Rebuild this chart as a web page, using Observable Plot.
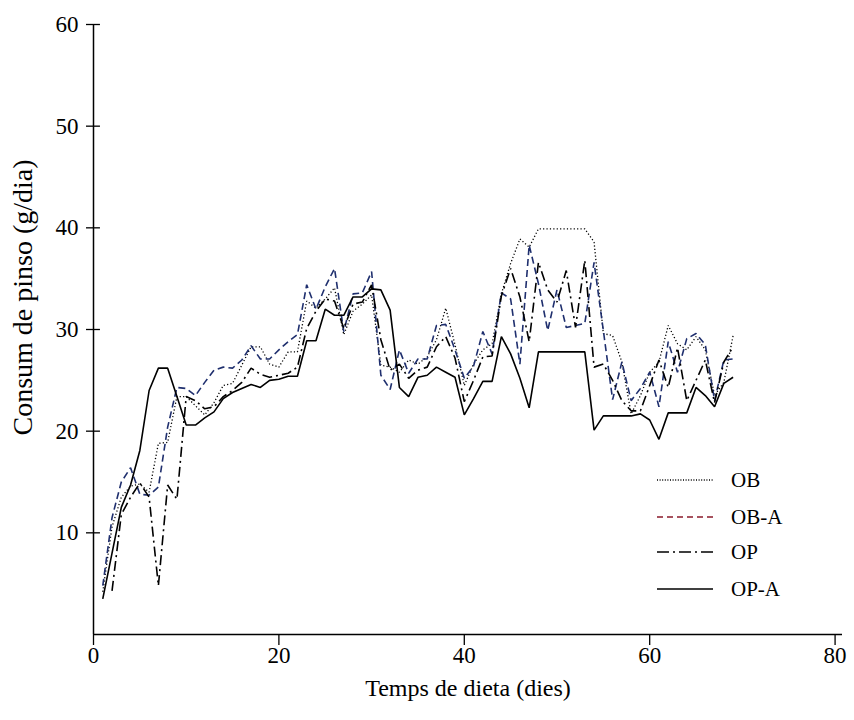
<!DOCTYPE html>
<html><head><meta charset="utf-8">
<script src="https://cdn.jsdelivr.net/npm/d3@7"></script>
<script src="https://cdn.jsdelivr.net/npm/@observablehq/plot@0.6"></script>
<style>
body{margin:0;background:#fff;}
#wrap{position:relative;width:854px;height:720px;font-family:"Liberation Serif","Times New Roman",serif;}
#legend{position:absolute;left:0;top:0;pointer-events:none;}
</style></head><body><div id="wrap"></div>
<script>
// Days of diet
const days = d3.range(1, 70);
const xTicks = [0, 20, 40, 60, 80];
const yTicks = [10, 20, 30, 40, 50, 60];
const seriesNames = ["OB", "OB-A", "OP", "OP-A"];

// OB (dotted)
const OB = [4.2,10.6,13.5,14.6,14.8,14.0,18.8,18.9,23.4,23.4,
 22.5,21.6,22.8,24.5,24.7,26.5,28.3,28.3,26.6,26.3,
 27.8,27.8,32.8,32.1,33.0,34.1,29.5,31.8,32.5,33.4,
 26.5,26.3,25.8,27.0,26.6,27.3,29.0,32.1,28.5,24.5,
 26.6,28.0,28.6,33.5,36.5,38.9,38.1,39.9,39.9,39.9,
 39.9,39.9,39.9,38.6,29.6,29.4,26.8,21.7,23.5,25.8,
 26.8,30.4,28.6,28.0,29.3,28.0,23.5,24.8,29.4];
// OB-A (dashed, navy)
const OBA = [4.8,11.5,15.0,16.4,13.8,13.7,14.5,20.4,24.3,24.2,
 23.5,24.8,26.0,26.3,26.2,27.0,28.4,27.1,27.1,28.0,
 28.8,29.5,34.4,32.0,34.2,36.0,29.8,33.5,33.6,35.7,
 25.5,24.1,28.0,25.7,27.1,27.1,30.4,30.5,28.0,25.2,
 26.4,29.8,27.6,33.6,33.0,26.6,38.3,34.5,29.9,33.9,
 30.2,30.4,30.6,36.6,29.9,23.1,26.8,23.0,24.2,25.8,
 22.4,28.8,25.8,29.1,29.6,28.5,23.0,27.0,27.1];
// OP (dash-dot)
const OP = [null,4.3,11.8,13.5,14.9,13.5,4.8,14.7,13.3,23.4,
 23.0,22.2,22.4,23.4,24.0,24.8,26.2,25.6,25.3,25.5,
 25.7,26.3,30.1,31.8,33.0,32.8,30.1,32.5,32.7,34.4,
 29.0,26.0,26.6,25.2,26.0,26.3,28.3,29.3,27.2,22.9,
 25.0,27.3,27.4,33.3,36.0,33.2,28.8,36.6,33.9,32.7,
 35.8,30.2,36.8,26.3,26.6,25.0,23.0,22.0,22.0,24.5,
 27.0,24.3,28.2,23.0,25.0,27.0,22.8,26.8,28.3];
// OP-A (solid)
const OPA = [3.5,8.0,12.5,14.7,18.1,24.0,26.2,26.2,23.4,20.6,
 20.6,21.3,21.9,23.2,23.8,24.2,24.6,24.3,25.0,25.1,
 25.4,25.4,28.9,28.9,32.0,31.4,31.4,33.2,33.2,34.0,
 33.9,31.9,24.3,23.4,25.3,25.5,26.3,25.8,25.3,21.6,
 23.2,24.9,24.9,29.3,27.6,25.2,22.3,27.8,27.8,27.8,
 27.8,27.8,27.8,20.1,21.5,21.5,21.5,21.5,21.7,21.1,
 19.2,21.8,21.8,21.8,24.3,23.5,22.4,24.7,25.3];

const values = [OB, OBA, OP, OPA];
const styles = {
  "OB":   {stroke: "#000", dash: "1.2,2.2", width: 1.3},
  "OB-A": {stroke: "#1f2f6e", dash: "7,4", width: 1.6},
  "OP":   {stroke: "#000", dash: "10,4,2,4", width: 1.6},
  "OP-A": {stroke: "#000", dash: null, width: 1.6}
};
const legendStroke = {"OB": "#000", "OB-A": "#8b1a2b", "OP": "#000", "OP-A": "#000"};

const lineMarks = seriesNames.map((name, i) => {
  const data = days.map((d, j) => ({day: d, value: values[i][j]}));
  const s = styles[name];
  return Plot.line(data, {x: "day", y: "value", stroke: s.stroke, strokeWidth: s.width,
    strokeDasharray: s.dash, strokeLinejoin: "miter", strokeLinecap: "butt"});
});

const serif = "'Liberation Serif','Times New Roman',serif";
const chart = Plot.plot({
  width: 854, height: 720,
  marginLeft: 93, marginRight: 12, marginTop: 24, marginBottom: 86,
  style: {fontFamily: serif, fontSize: "23px", color: "#000", background: "#fff"},
  x: {domain: [0, 80.8]},
  y: {domain: [0, 60]},
  marks: [
    Plot.ruleY([0], {stroke: "#000", strokeWidth: 1.5}),
    Plot.ruleX([0], {stroke: "#000", strokeWidth: 1.5}),
    Plot.axisX({ticks: xTicks, tickSize: 11, tickPadding: 1, label: null, strokeWidth: 1.3, fontFamily: serif, fontSize: 23}),
    Plot.axisY({ticks: yTicks, tickSize: 7, tickPadding: 8, label: null, strokeWidth: 1.3, fontFamily: serif, fontSize: 23}),
    Plot.ruleY(yTicks, {y: d => d, x1: 0, x2: 0.75, stroke: "#000", strokeWidth: 1.3}),
    Plot.text(["Temps de dieta (dies)"], {frameAnchor: "bottom", dy: 61, fontSize: 24, fontFamily: serif, textAnchor: "middle"}),
    Plot.text(["Consum de pinso (g/dia)"], {frameAnchor: "left", rotate: -90, dx: -70, dy: -32, fontSize: 28, fontFamily: serif, textAnchor: "middle"}),
    ...lineMarks
  ]
});
const wrap = document.getElementById("wrap");
wrap.appendChild(chart);

// Legend overlay (inside the plot area, lower right)
const ns = "http://www.w3.org/2000/svg";
const leg = document.createElementNS(ns, "svg");
leg.setAttribute("id", "legend");
leg.setAttribute("width", 854);
leg.setAttribute("height", 720);
const legY = [480, 517, 552, 589];
seriesNames.forEach((name, i) => {
  const s = styles[name];
  const ln = document.createElementNS(ns, "line");
  ln.setAttribute("x1", 657); ln.setAttribute("x2", 713);
  ln.setAttribute("y1", legY[i]); ln.setAttribute("y2", legY[i]);
  ln.setAttribute("stroke", legendStroke[name]);
  ln.setAttribute("stroke-width", s.width);
  if (s.dash) ln.setAttribute("stroke-dasharray", name === "OB" ? "1,1.6" : (name === "OB-A" ? "6,4" : "12,4,2,4"));
  leg.appendChild(ln);
  const t = document.createElementNS(ns, "text");
  t.setAttribute("x", 731); t.setAttribute("y", legY[i]);
  t.setAttribute("dy", "0.35em");
  t.setAttribute("font-family", serif);
  t.setAttribute("font-size", 21);
  t.textContent = name;
  leg.appendChild(t);
});
wrap.appendChild(leg);
</script>
</body></html>
